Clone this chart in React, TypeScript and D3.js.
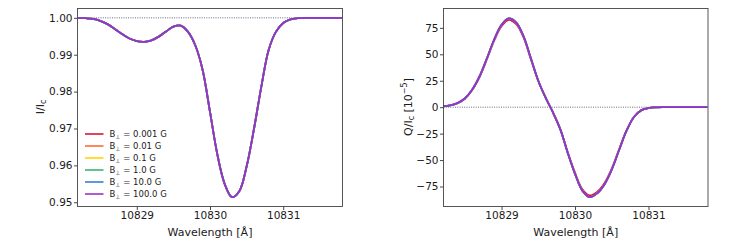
import { useEffect, useRef } from "react";
import * as d3 from "d3";

// wavelength grid in Angstrom
const wavelength = [
  10828.2, 10828.3, 10828.4, 10828.5, 10828.6, 10828.7, 10828.8, 10828.9, 10829.0, 10829.1,
  10829.2, 10829.3, 10829.4, 10829.5, 10829.6, 10829.7, 10829.8, 10829.9, 10830.0, 10830.1,
  10830.2, 10830.3, 10830.4, 10830.5, 10830.6, 10830.7, 10830.8, 10830.9, 10831.0, 10831.1,
  10831.2, 10831.3, 10831.4, 10831.5, 10831.6, 10831.7, 10831.8,
];

// I/Ic (all fields overlap)
const stokesI = [
  1.0, 0.9999, 0.9997, 0.9992, 0.9983, 0.997, 0.9956, 0.9944, 0.9937, 0.9935,
  0.9939, 0.9949, 0.9963, 0.9976, 0.9979, 0.9962, 0.9925, 0.9858, 0.9745, 0.963,
  0.955, 0.9514, 0.953, 0.9597, 0.9698, 0.9812, 0.9912, 0.9962, 0.9986, 0.9996,
  0.9999, 1.0, 1.0, 1.0, 1.0, 1.0, 1.0,
];

// Q/Ic in 1e-5, weakest field
const stokesQWeak = [
  0.8, 1.6, 3.7, 8.0, 16.2, 28.5, 45.2, 62.9, 76.6, 82.5,
  78.6, 65.8, 45.2, 24.6, 8.8, -4.9, -20.6, -42.2, -61.9, -77.6,
  -83.5, -80.1, -71.8, -58.0, -39.8, -22.1, -9.3, -2.9, -0.8, -0.2,
  0, 0, 0, 0, 0, 0, 0,
];

// Q/Ic in 1e-5, stronger fields
const stokesQStrong = [
  0.8, 1.6, 3.8, 8.2, 16.5, 29, 46, 64, 78, 84,
  80, 67, 46, 25, 9, -5, -21, -43, -63, -79,
  -85, -81.5, -73, -59, -40.5, -22.5, -9.5, -3.0, -0.8, -0.2,
  0, 0, 0, 0, 0, 0, 0,
];

const fieldLabels = ["0.001", "0.01", "0.1", "1.0", "10.0", "100.0"];
const fieldColors = ["#DC143C", "#FF6A33", "#FFD700", "#3CB371", "#3A7FD5", "#9932CC"];

const xTicks = [10829, 10830, 10831];
const iTicks = [0.95, 0.96, 0.97, 0.98, 0.99, 1.0];
const qTicks = [-75, -50, -25, 0, 25, 50, 75];

const W = 747;
const H = 249;
const FONT = "DejaVu Sans, sans-serif";

export default function App() {
  const svgRef = useRef<SVGSVGElement>(null);

  useEffect(() => {
    if (!svgRef.current) return;
    const svg = d3.select(svgRef.current);
    svg.selectAll("*").remove();

    const top = 8.5;
    const bottom = 206.5;

    const drawPanel = (
      id: string,
      x0: number,
      x1: number,
      xDomain: [number, number],
      yDomain: [number, number],
      yTicks: number[],
      yFmt: (v: number) => string,
      refValue: number,
      series: number[][],
    ) => {
      const x = d3.scaleLinear().domain(xDomain).range([x0, x1]);
      const y = d3.scaleLinear().domain(yDomain).range([bottom, top]);
      const g = svg.append("g");

      g.append("clipPath").attr("id", id).append("rect")
        .attr("x", x0).attr("y", top).attr("width", x1 - x0).attr("height", bottom - top);

      const plot = g.append("g").attr("clip-path", `url(#${id})`);

      plot.append("line")
        .attr("x1", x0).attr("x2", x1)
        .attr("y1", y(refValue)).attr("y2", y(refValue))
        .attr("stroke", "#3a4660").attr("stroke-width", 0.8)
        .attr("stroke-dasharray", "1 1.3");

      const line = d3.line<number>()
        .x((_, i) => x(wavelength[i]))
        .y((d) => y(d))
        .curve(d3.curveCatmullRom.alpha(0.5));

      series.forEach((vals, i) => {
        plot.append("path")
          .attr("d", line(vals) ?? "")
          .attr("fill", "none")
          .attr("stroke", fieldColors[i])
          .attr("stroke-width", 1.8);
      });

      const xAxis = g.append("g").attr("transform", `translate(0,${bottom})`)
        .call(d3.axisBottom(x).tickValues(xTicks).tickSize(3.5).tickPadding(1.5).tickFormat(d3.format("d")));
      const yAxis = g.append("g").attr("transform", `translate(${x0},0)`)
        .call(d3.axisLeft(y).tickValues(yTicks).tickSize(3.5).tickPadding(1.5).tickFormat((d) => yFmt(d as number)));

      [xAxis, yAxis].forEach((a) => {
        a.select(".domain").remove();
        a.selectAll("line").attr("stroke", "#333").attr("stroke-width", 0.9);
        a.selectAll("text").attr("font-family", FONT).attr("font-size", 10.5).attr("fill", "#1a1a1a");
      });

      g.append("rect")
        .attr("x", x0).attr("y", top).attr("width", x1 - x0).attr("height", bottom - top)
        .attr("fill", "none").attr("stroke", "#444").attr("stroke-width", 0.9);

      g.append("text")
        .attr("x", (x0 + x1) / 2).attr("y", 236)
        .attr("text-anchor", "middle")
        .attr("font-family", FONT).attr("font-size", 11).attr("fill", "#1a1a1a")
        .text("Wavelength [Å]");

      return g;
    };

    // Left: intensity
    const gl = drawPanel("clipI", 77.5, 342.5, [10828.19, 10831.81], [0.94885, 1.00253], iTicks,
      d3.format(".2f"), 1.0, fieldColors.map(() => stokesI));

    const yl = gl.append("text")
      .attr("transform", "translate(43.5,107) rotate(-90)")
      .attr("text-anchor", "middle")
      .attr("font-family", FONT).attr("font-size", 11).attr("fill", "#1a1a1a");
    yl.append("tspan").text("I/I");
    yl.append("tspan").attr("font-size", 8).attr("dy", 2.5).text("c");

    // legend
    const leg = gl.append("g");
    fieldLabels.forEach((lab, i) => {
      const cy = 134 + i * 12;
      leg.append("line")
        .attr("x1", 85).attr("x2", 103.5).attr("y1", cy).attr("y2", cy)
        .attr("stroke", fieldColors[i]).attr("stroke-width", 1.6);
      const t = leg.append("text")
        .attr("x", 109.5).attr("y", cy + 3)
        .attr("font-family", FONT).attr("font-size", 8.5).attr("fill", "#1a1a1a");
      t.append("tspan").text("B");
      t.append("tspan").attr("font-size", 6).attr("dy", 2).text("⊥");
      t.append("tspan").attr("dy", -2).text(` = ${lab} G`);
    });

    // Right: Stokes Q
    const gr = drawPanel("clipQ", 443.5, 708, [10828.21, 10831.81], [-93.9, 93.3], qTicks,
      d3.format("d"), 0, fieldColors.map((_, i) => (i === 0 ? stokesQWeak : stokesQStrong)));

    const yr = gr.append("text")
      .attr("transform", "translate(411.5,107) rotate(-90)")
      .attr("text-anchor", "middle")
      .attr("font-family", FONT).attr("font-size", 11).attr("fill", "#1a1a1a");
    yr.append("tspan").text("Q/I");
    yr.append("tspan").attr("font-size", 8).attr("dy", 2.5).text("c");
    yr.append("tspan").attr("dy", -2.5).text(" [10");
    yr.append("tspan").attr("font-size", 8).attr("dy", -4.5).text("−5");
    yr.append("tspan").attr("dy", 4.5).text("]");
  }, []);

  return (
    <div style={{ position: "fixed", left: 0, top: 0, background: "#fff" }}>
      <svg ref={svgRef} width={W} height={H} style={{ display: "block" }} />
    </div>
  );
}
